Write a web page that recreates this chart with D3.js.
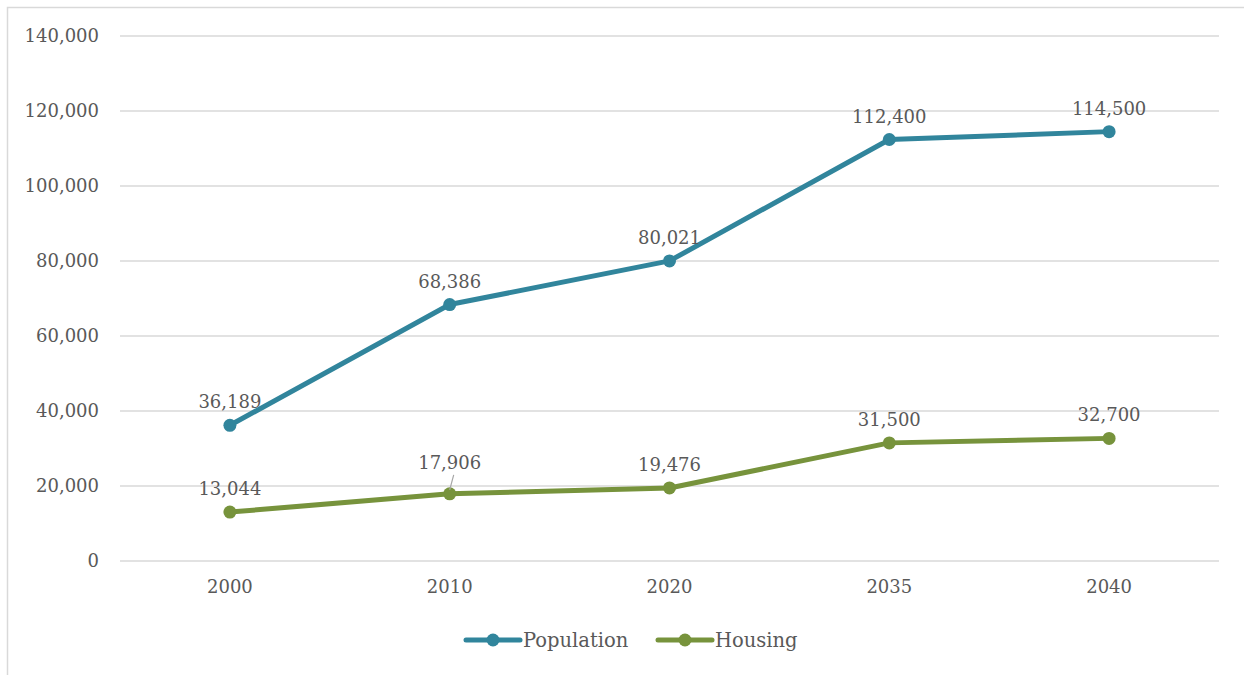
<!DOCTYPE html>
<html>
<head>
<meta charset="utf-8">
<script src="https://cdn.jsdelivr.net/npm/d3@7"></script>
<style>
  body { margin: 0; background: #fff; }
  svg text { font-family: "DejaVu Serif", serif; fill: #595959; }
</style>
</head>
<body>
<script>
// chart data
var years = ["2000", "2010", "2020", "2035", "2040"];
var population = [36189, 68386, 80021, 112400, 114500];
var housing = [13044, 17906, 19476, 31500, 32700];
var yTicks = [0, 20000, 40000, 60000, 80000, 100000, 120000, 140000];

var seriesNames = ["Population", "Housing"];
var seriesColors = ["#31859c", "#77933c"];

var fontFam = "'DejaVu Serif', serif";

//begin script when window loads
window.onload = drawChart();

function drawChart(){
    var width = 1244,
        height = 675;

    var svg = d3.select("body")
        .append("svg")
        .attr("width", width)
        .attr("height", height);

    //outer chart border (cut at right and bottom like the original)
    svg.append("rect")
        .attr("x", 7.5)
        .attr("y", 7.5)
        .attr("width", 1250)
        .attr("height", 700)
        .attr("fill", "none")
        .attr("stroke", "#d9d9d9")
        .attr("stroke-width", 1.5);

    var plot = { left: 120, right: 1219, top: 36, bottom: 561 };

    var x = d3.scaleBand()
        .domain(years)
        .range([plot.left, plot.right]);

    var y = d3.scaleLinear()
        .domain([0, 140000])
        .range([plot.bottom, plot.top]);

    //gridlines
    svg.append("g")
        .selectAll("line")
        .data(yTicks)
        .enter()
        .append("line")
        .attr("x1", plot.left)
        .attr("x2", plot.right)
        .attr("y1", function(d){ return y(d); })
        .attr("y2", function(d){ return y(d); })
        .attr("stroke", "#d9d9d9")
        .attr("stroke-width", 1.5);

    //y axis labels
    var yAxis = d3.axisLeft(y)
        .tickValues(yTicks)
        .tickSize(0)
        .tickPadding(21)
        .tickFormat(d3.format(","));

    var yg = svg.append("g")
        .attr("transform", "translate(" + plot.left + ",0)")
        .call(yAxis);
    yg.select(".domain").remove();
    yg.attr("font-family", fontFam).attr("font-size", 18);
    yg.selectAll("text").attr("fill", "#595959");

    //x axis labels
    var xAxis = d3.axisBottom(x)
        .tickSize(0)
        .tickPadding(19);

    var xg = svg.append("g")
        .attr("transform", "translate(0," + plot.bottom + ")")
        .call(xAxis);
    xg.select(".domain").remove();
    xg.attr("font-family", fontFam).attr("font-size", 18);
    xg.selectAll("text").attr("fill", "#595959");

    var cx = function(i){ return x(years[i]) + x.bandwidth() / 2; };

    var line = d3.line()
        .x(function(d, i){ return cx(i); })
        .y(function(d){ return y(d); });

    var allSeries = [population, housing];

    allSeries.forEach(function(values, s){
        var g = svg.append("g");

        g.append("path")
            .datum(values)
            .attr("d", line)
            .attr("fill", "none")
            .attr("stroke", seriesColors[s])
            .attr("stroke-width", 5)
            .attr("stroke-linejoin", "round")
            .attr("stroke-linecap", "round");

        g.selectAll("circle")
            .data(values)
            .enter()
            .append("circle")
            .attr("cx", function(d, i){ return cx(i); })
            .attr("cy", function(d){ return y(d); })
            .attr("r", 6.5)
            .attr("fill", seriesColors[s]);

        //data labels
        g.selectAll("text")
            .data(values)
            .enter()
            .append("text")
            .attr("x", function(d, i){ return cx(i); })
            .attr("y", function(d, i){
                //housing 2010 label is pulled up with a leader line
                if (s === 1 && i === 1) return y(d) - 25;
                return y(d) - 17;
            })
            .attr("text-anchor", "middle")
            .attr("font-family", fontFam)
            .attr("font-size", 18)
            .text(function(d){ return d3.format(",")(d); });
    });

    //leader line for the 17,906 label
    svg.append("line")
        .attr("x1", cx(1) + 4)
        .attr("y1", y(housing[1]) - 19)
        .attr("x2", cx(1))
        .attr("y2", y(housing[1]) - 4)
        .attr("stroke", "#a6a6a6")
        .attr("stroke-width", 1.2);

    //legend
    var legendX = [466, 658];
    var legendY = 640;
    seriesNames.forEach(function(name, s){
        var lg = svg.append("g")
            .attr("transform", "translate(" + legendX[s] + "," + legendY + ")");
        lg.append("line")
            .attr("x1", 0)
            .attr("x2", 54)
            .attr("stroke", seriesColors[s])
            .attr("stroke-width", 5)
            .attr("stroke-linecap", "round");
        lg.append("circle")
            .attr("cx", 27)
            .attr("r", 6.5)
            .attr("fill", seriesColors[s]);
        lg.append("text")
            .attr("x", 57)
            .attr("y", 7)
            .attr("font-family", fontFam)
            .attr("font-size", 19.5)
            .text(name);
    });
}
</script>
</body>
</html>
